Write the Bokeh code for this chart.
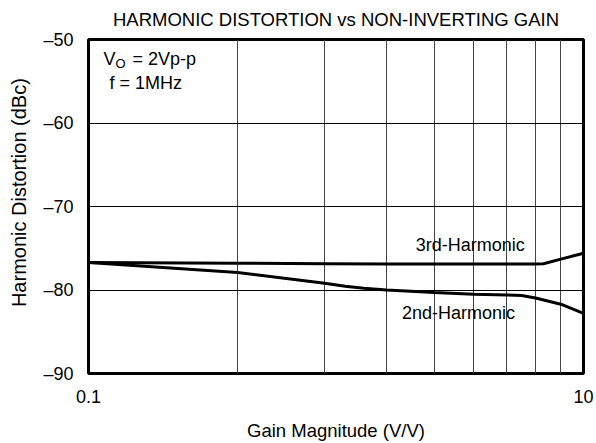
import math
from bokeh.plotting import figure
from bokeh.models import FixedTicker, Label, Range1d
from bokeh.embed import file_html
from bokeh.resources import INLINE

# ---- data ----
gain_3rd = [1, 2, 3, 4, 5, 6, 7, 8, 8.3, 9, 10]
hd3_dbc = [-76.7, -76.8, -76.85, -76.9, -76.9, -76.9, -76.9, -76.9, -76.85, -76.3, -75.6]
gain_2nd = [1, 2, 3, 3.3, 3.6, 4, 5, 6, 7, 7.5, 8, 9, 10]
hd2_dbc = [-76.7, -77.9, -79.2, -79.55, -79.8, -80.0, -80.3, -80.5, -80.6, -80.65, -80.95, -81.7, -82.8]

x_ticks = [1, 10]
x_tick_labels = {1: "0.1", 10: "10"}
x_grid = [2, 3, 4, 5, 6, 7, 8, 9]
y_ticks = [-90, -80, -70, -60, -50]
y_tick_labels = {-90: "–90", -80: "–80", -70: "–70", -60: "–60", -50: "–50"}
y_grid = [-80, -70, -60]

title_text = "HARMONIC DISTORTION vs NON-INVERTING GAIN"
x_title = "Gain Magnitude (V/V)"
y_title = "Harmonic Distortion (dBc)"
label_3rd = ("3rd-Harmonic", 4.58, -74.6)
label_2nd = ("2nd-Harmonic", 4.30, -82.7)

FONT = "Liberation Sans"

p = figure(width=596, height=443, x_axis_type="log",
           x_range=Range1d(1, 10), y_range=Range1d(-90, -50),
           output_backend="svg", toolbar_location=None,
           min_border_left=88, min_border_right=13,
           min_border_top=38, min_border_bottom=68)
p.background_fill_color = "white"
p.border_fill_color = "white"
p.outline_line_color = "black"
p.outline_line_width = 3

p.title.text = title_text
p.title.align = "center"
p.title.vertical_align = "top"
p.title.text_font = FONT
p.title.text_font_size = "18.5px"
p.title.text_font_style = "normal"
p.title.text_color = "black"
p.title.standoff = 16

p.xaxis.ticker = FixedTicker(ticks=x_ticks)
p.xaxis.major_label_overrides = x_tick_labels
p.yaxis.ticker = FixedTicker(ticks=y_ticks)
p.yaxis.major_label_overrides = y_tick_labels
for ax in (p.xaxis, p.yaxis):
    ax.axis_line_color = None
    ax.major_tick_in = 0
    ax.major_tick_out = 0
    ax.minor_tick_in = 0
    ax.minor_tick_out = 0
    ax.major_label_text_font = FONT
    ax.major_label_text_font_size = "18px"
    ax.major_label_text_color = "black"
    ax.axis_label_text_font = FONT
    ax.axis_label_text_font_style = "normal"
    ax.axis_label_text_color = "black"
p.xaxis.axis_label_text_font_size = "18.5px"
p.yaxis.axis_label_text_font_size = "20px"
p.xaxis.major_label_standoff = 16
p.yaxis.major_label_standoff = 15
p.xaxis.axis_label = x_title
# leading no-break spaces nudge the rotated label upward, as in the reference
p.yaxis.axis_label = "\u00a0" * 5 + y_title
p.xaxis.axis_label_standoff = 14
p.yaxis.axis_label_standoff = 10

p.xgrid.ticker = FixedTicker(ticks=x_grid)
p.xgrid.grid_line_color = "#444444"
p.xgrid.grid_line_width = 1
p.ygrid.ticker = FixedTicker(ticks=y_grid)
p.ygrid.grid_line_color = "black"
p.ygrid.grid_line_width = 1

p.line(gain_3rd, hd3_dbc, line_color="black", line_width=3)
p.line(gain_2nd, hd2_dbc, line_color="black", line_width=3)


def lab(text, x, y, size="18px", xo=0, yo=0, align="left", baseline="middle"):
    p.add_layout(Label(x=x, y=y, x_offset=xo, y_offset=yo, text=text,
                       text_font=FONT, text_font_size=size, text_color="black",
                       text_align=align, text_baseline=baseline))


lab("V", 1, -50, xo=15, yo=-19)
lab("O", 1, -50, size="13px", xo=27, yo=-24)
lab("= 2Vp-p", 1, -50, xo=44, yo=-19)
lab("f = 1MHz", 1, -50, xo=21, yo=-43)

lab(label_3rd[0], label_3rd[1], label_3rd[2])
lab(label_2nd[0], label_2nd[1], label_2nd[2])

open("out.html", "w").write(file_html(p, INLINE))
